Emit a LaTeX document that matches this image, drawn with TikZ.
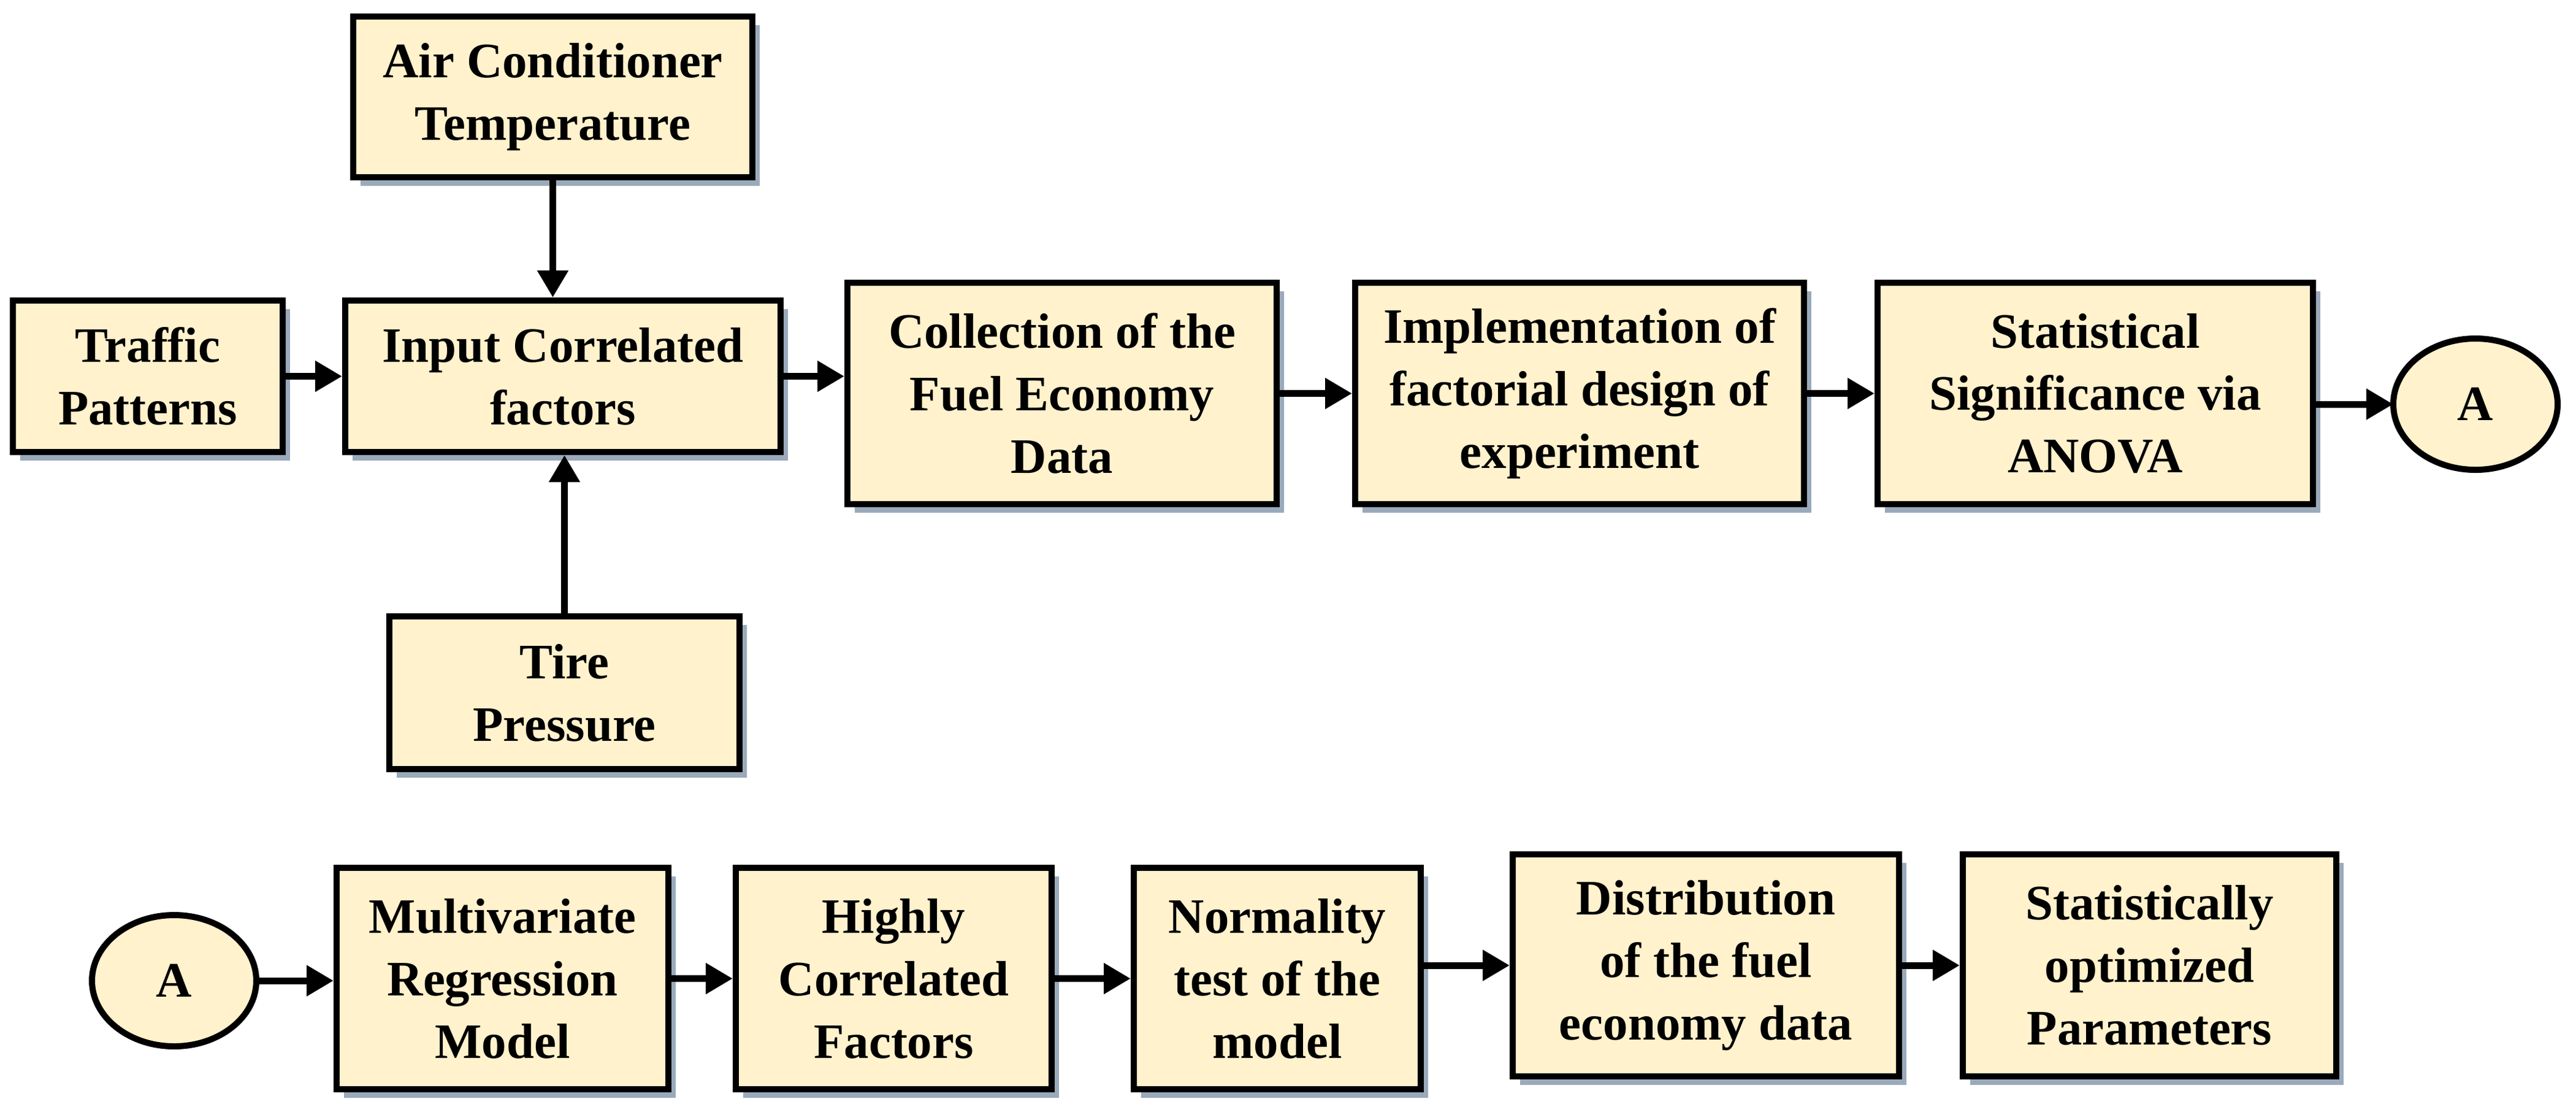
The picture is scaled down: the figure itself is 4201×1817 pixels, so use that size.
\documentclass[tikz,border=0pt]{standalone}
\usepackage{fontspec}
\setmainfont{Liberation Serif}
\usetikzlibrary{arrows.meta}
\begin{document}
\begin{tikzpicture}[x=0.05mm,y=-0.05mm,
  boxst/.style={draw=black,line width=0.5mm,fill=boxfill,align=center,font=\fontsize{11.5}{14.5}\selectfont\bfseries,inner sep=0pt},
  arr/.style={line width=0.55mm,-{Triangle[length=2.2mm,width=2.4mm]}}]
\definecolor{boxfill}{HTML}{FFF2CC}
\definecolor{shadowc}{HTML}{9AAABB}
\useasboundingbox (0,0) rectangle (4201,1817);
\newcommand{\bx}[6]{%
  \fill[shadowc] (#2+12,#3+14) rectangle (#4+12,#5+14);
  \node[boxst,minimum width={(#4-#2)*0.05mm},minimum height={(#5-#3)*0.05mm}] (#1) at ({(#2+#4)/2},{(#3+#5)/2}) {#6};}
\bx{ac}{576}{27}{1227}{289}{Air Conditioner\\Temperature}
\bx{tr}{21}{490}{461}{737}{Traffic\\Patterns}
\bx{in}{563}{490}{1273}{737}{Input Correlated\\factors}
\bx{ti}{635}{1005}{1206}{1254}{Tire\\Pressure}
\bx{co}{1382}{461}{2082}{822}{Collection of the\\Fuel Economy\\Data}
\bx{im}{2210}{461}{2942}{822}{Implementation of\\factorial design of\\experiment}
\bx{st}{3062}{461}{3772}{822}{Statistical\\Significance via\\ANOVA}
\bx{mu}{549}{1415}{1090}{1776}{Multivariate\\Regression\\Model}
\bx{hi}{1200}{1415}{1715}{1776}{Highly\\Correlated\\Factors}
\bx{no}{1849}{1415}{2317}{1776}{Normality\\test of the\\model}
\bx{di}{2467}{1393}{3097}{1755}{Distribution\\of the fuel\\economy data}
\bx{so}{3201}{1393}{3810}{1755}{Statistically\\optimized\\Parameters}
\draw[line width=0.5mm,fill=boxfill] (4037,659) ellipse [x radius=134,y radius=107];
\node[font=\fontsize{11.5}{14.5}\selectfont\bfseries] (a1) at (4037,659) {A};
\coordinate (a1w) at (3903,659);
\draw[line width=0.5mm,fill=boxfill] (284,1599) ellipse [x radius=134,y radius=107];
\node[font=\fontsize{11.5}{14.5}\selectfont\bfseries] (a2) at (284,1599) {A};
\coordinate (a2e) at (418,1599);
\draw[arr] (tr) -- (in);
\draw[arr] (ac.south) -- (ac.south|-in.north);
\draw[arr] (ti.north) -- (ti.north|-in.south);
\draw[arr] (in.east) -- (co.west|-in.east);
\draw[arr] (co) -- (im);
\draw[arr] (im) -- (st);
\draw[arr] (st.east|-a1w) -- (a1w);
\draw[arr] (a2e) -- (mu.west|-a2e);
\draw[arr] (mu) -- (hi);
\draw[arr] (hi) -- (no);
\draw[arr] (no.east|-di) -- (di.west);
\draw[arr] (di) -- (so);
\end{tikzpicture}
\end{document}
